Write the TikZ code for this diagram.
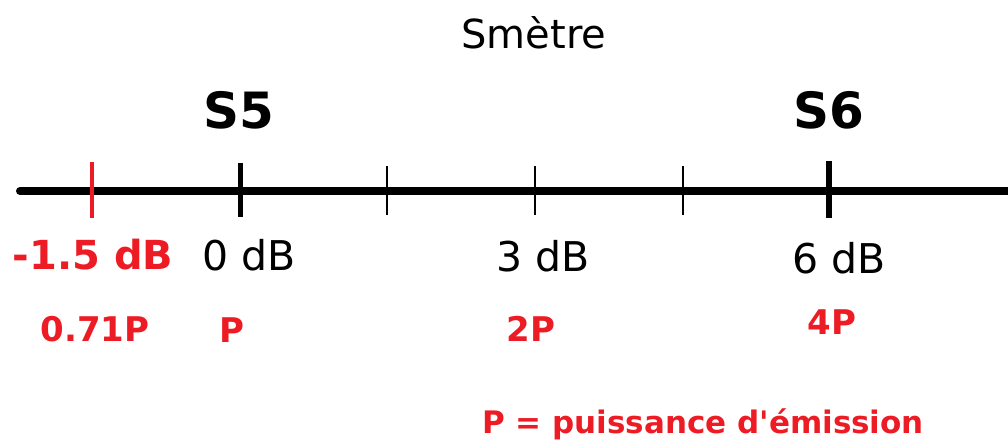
\documentclass[tikz,border=0pt]{standalone}
\usepackage{fontspec}
\setmainfont{DejaVu Sans}
\definecolor{myred}{RGB}{237,28,36}
\tikzset{
  axisline/.style={line width=8pt, line cap=round},
  majortick/.style={line width=5pt},
  minortick/.style={line width=2.2pt},
  redtick/.style={line width=4pt, myred},
  lbl/.style={inner sep=0pt, anchor=center},
  dblbl/.style={lbl, font=\fontsize{41}{41}\selectfont},
  redlbl/.style={lbl, text=myred, font=\fontsize{34}{34}\selectfont\bfseries},
  slbl/.style={lbl, font=\fontsize{50}{50}\selectfont\bfseries},
}
\begin{document}
\begin{tikzpicture}[x=1pt,y=-1pt]
\useasboundingbox (0,0) rectangle (1008,445);
\coordinate (L) at (20,191);
\coordinate (R) at (1012,191);
\draw[axisline] (L) -- (R);
\coordinate (t1a) at (92,162); \coordinate (t1b) at (92,218);
\coordinate (t2a) at (240,163); \coordinate (t2b) at (240,217);
\coordinate (t3a) at (387,166); \coordinate (t3b) at (387,215);
\coordinate (t4a) at (535,166); \coordinate (t4b) at (535,215);
\coordinate (t5a) at (683,166); \coordinate (t5b) at (683,215);
\coordinate (t6a) at (829,161); \coordinate (t6b) at (829,218);
\draw[redtick] (t1a) -- (t1b);
\draw[majortick] (t2a) -- (t2b);
\draw[minortick] (t3a) -- (t3b);
\draw[minortick] (t4a) -- (t4b);
\draw[minortick] (t5a) -- (t5b);
\draw[majortick, line width=6pt] (t6a) -- (t6b);

\node[lbl, font=\fontsize{40}{40}\selectfont] (title) at (534,33) {Smètre};
\node[slbl] (s5) at (239,110) {S5};
\node[slbl] (s6) at (829,110) {S6};

\node[dblbl, text=myred, font=\fontsize{40}{40}\selectfont\bfseries] (m15) at (93,255) {-1.5 dB};
\node[dblbl] (d0) at (249,255) {0 dB};
\node[dblbl] (d3) at (543,256) {3 dB};
\node[dblbl] (d6) at (839,258) {6 dB};

\node[redlbl] (p071) at (95,329) {0.71P};
\node[redlbl] (p1) at (232,330) {P};
\node[redlbl] (p2) at (531,329) {2P};
\node[redlbl] (p4) at (832,322) {4P};

\node[lbl, text=myred, font=\fontsize{31}{31}\selectfont\bfseries] (legend) at (703,424) {P = puissance d\textquotesingle émission};
\end{tikzpicture}
\end{document}
